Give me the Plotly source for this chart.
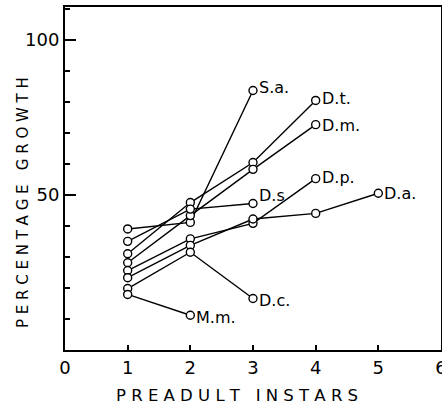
import plotly.graph_objects as go

# Data (percentage growth per preadult instar)
species = ["S.a.", "D.t.", "D.m.", "D.s", "D.p.", "D.a.", "D.c.", "M.m."]
instars = {
    "S.a.": [1, 2, 3],
    "D.t.": [1, 2, 3, 4],
    "D.m.": [1, 2, 3, 4],
    "D.s": [1, 2, 3],
    "D.p.": [1, 2, 3, 4],
    "D.a.": [1, 2, 3, 4, 5],
    "D.c.": [1, 2, 3],
    "M.m.": [1, 2],
}
growth = {
    "S.a.": [39.0, 41.1, 83.6],
    "D.t.": [31.0, 47.5, 60.4, 80.4],
    "D.m.": [28.1, 43.3, 58.2, 72.6],
    "D.s": [35.0, 45.4, 47.2],
    "D.p.": [25.6, 35.8, 40.8, 55.2],
    "D.a.": [23.3, 33.7, 42.2, 44.0, 50.5],
    "D.c.": [19.8, 31.5, 16.6],
    "M.m.": [17.9, 11.2],
}
# label vertical shift (pixels) relative to end point
label_shift = {"S.a.": 3, "D.t.": 2, "D.m.": -1, "D.s": 8, "D.p.": 1, "D.a.": 0, "D.c.": -2, "M.m.": -2}

x_ticks = [0, 1, 2, 3, 4, 5, 6]
y_major = [50, 100]
y_minor = [10, 20, 30, 40, 60, 70, 80, 90, 100, 110]

x_title = "P R E A D U L T&nbsp;&nbsp;&nbsp;I N S T A R S"
y_title = "P E R C E N T A G E&nbsp;&nbsp;&nbsp;G R O W T H"

font_family = "DejaVu Sans"

fig = go.Figure()
for sp in species:
    fig.add_trace(go.Scatter(
        x=instars[sp], y=growth[sp], mode="lines+markers",
        line=dict(color="black", width=1.4),
        marker=dict(symbol="circle", size=8, color="white",
                    line=dict(color="black", width=1.4)),
        showlegend=False, cliponaxis=False,
    ))
    fig.add_annotation(
        x=instars[sp][-1], y=growth[sp][-1], text=sp,
        xanchor="left", yanchor="middle", xshift=4, yshift=label_shift[sp],
        showarrow=False, font=dict(family=font_family, size=16, color="black"),
    )

# axis titles as annotations (placed like the reference)
fig.add_annotation(
    x=0.457, y=0, xref="paper", yref="paper", yshift=-45,
    xanchor="center", yanchor="middle", text=x_title, showarrow=False,
    font=dict(family=font_family, size=16.5, color="black"),
)
fig.add_annotation(
    x=-0.112, y=0.431, xref="paper", yref="paper", textangle=-90,
    xanchor="center", yanchor="middle", text=y_title, showarrow=False,
    font=dict(family=font_family, size=15, color="black"),
)

fig.update_layout(
    width=442, height=408,
    margin=dict(l=65, r=1, t=7, b=58, autoexpand=False),
    paper_bgcolor="white", plot_bgcolor="white",
    font=dict(family=font_family, color="black"),
)
fig.update_xaxes(
    range=[0, 6], tickvals=x_ticks, ticktext=[str(v) for v in x_ticks],
    ticks="inside", ticklen=5, tickwidth=1.5, tickcolor="black",
    showline=True, linecolor="black", linewidth=2, mirror=True,
    showgrid=False, zeroline=False, automargin=False, ticklabeloverflow="allow",
    tickfont=dict(family=font_family, size=18, color="black"),
)
fig.update_yaxes(
    range=[0, 110.5], tickvals=y_major, ticktext=[str(v) for v in y_major],
    ticks="inside", ticklen=11, tickwidth=1.5, tickcolor="black",
    minor=dict(tickvals=y_minor, ticks="inside", ticklen=5, tickwidth=1.5, tickcolor="black"),
    showline=True, linecolor="black", linewidth=2, mirror=True,
    showgrid=False, zeroline=False, automargin=False,
    tickfont=dict(family=font_family, size=18, color="black"),
)

fig.write_html(
    "out.html",
    config={"displayModeBar": False},
    post_script="document.body.style.margin='0';document.body.style.overflow='hidden';",
)
